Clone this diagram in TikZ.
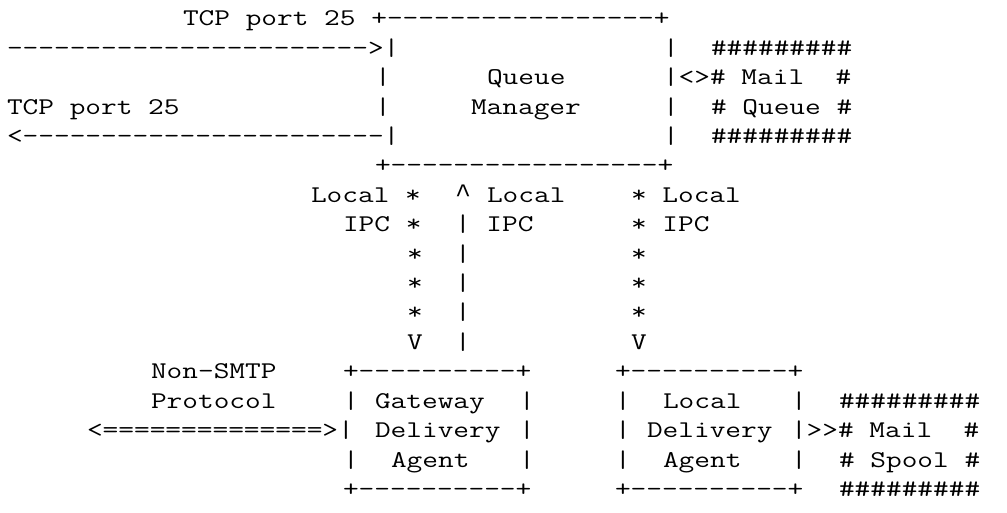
\documentclass[tikz,border=0pt]{standalone}
\usepackage{fontspec}
\setmonofont{lmmono12-regular.otf}[FakeStretch=1.27]
\newfontfamily\caretfont{Liberation Mono}
\tikzset{txt/.style={anchor=base west, inner sep=0pt, outer sep=0pt,
  font=\ttfamily\fontsize{12pt}{14.7pt}\selectfont, text=black}}
\newcommand\artline[4]{\node[txt] (#1) at ({3.5pt+#2*8pt},{-13pt-#3*14.7pt}) {#4};}
\begin{document}
\begin{tikzpicture}
\fill[white] (0,0) rectangle (503.5pt,-256.5pt);
\useasboundingbox (0,0) rectangle (503.5pt,-256.5pt);
% row 0
\artline{tcpin}{11}{0}{TCP port 25 +-----------------+}
% row 1
\artline{inarrow}{0}{1}{----------------------->|}
\artline{qmr1}{41}{1}{|}
\artline{mq1}{44}{1}{\#\#\#\#\#\#\#\#\#}
% row 2
\artline{qml2}{23}{2}{|}
\artline{queue}{30}{2}{Queue}
\artline{mq2}{41}{2}{|<>\#~Mail~~\#}
% row 3
\artline{tcpout}{0}{3}{TCP port 25}
\artline{qml3}{23}{3}{|}
\artline{manager}{29}{3}{Manager}
\artline{qmr3}{41}{3}{|}
\artline{mq3}{44}{3}{\#~Queue~\#}
% row 4
\artline{outarrow}{0}{4}{<-----------------------|}
\artline{qmr4}{41}{4}{|}
\artline{mq4}{44}{4}{\#\#\#\#\#\#\#\#\#}
% row 5
\artline{qmbot}{23}{5}{+-----------------+}
% row 6
\artline{ipcA1}{19}{6}{Local *}
\artline{caret}{28}{6}{{\caretfont\fontsize{13.33pt}{14.7pt}\selectfont\textasciicircum}}
\artline{ipcB1}{30}{6}{Local}
\artline{ipcC1}{39}{6}{* Local}
% row 7
\artline{ipcA2}{21}{7}{IPC *}
\artline{ipcB2}{28}{7}{| IPC}
\artline{ipcC2}{39}{7}{* IPC}
% rows 8-11
\artline{a8}{25}{8}{*}\artline{b8}{28}{8}{|}\artline{c8}{39}{8}{*}
\artline{a9}{25}{9}{*}\artline{b9}{28}{9}{|}\artline{c9}{39}{9}{*}
\artline{a10}{25}{10}{*}\artline{b10}{28}{10}{|}\artline{c10}{39}{10}{*}
\artline{a11}{25}{11}{V}\artline{b11}{28}{11}{|}\artline{c11}{39}{11}{V}
% row 12
\artline{nonsmtp}{9}{12}{Non-SMTP}
\artline{gdatop}{21}{12}{+----------+}
\artline{ldatop}{38}{12}{+----------+}
% row 13
\artline{protocol}{9}{13}{Protocol}
\artline{gdal13}{21}{13}{|}
\artline{gateway}{23}{13}{Gateway}
\artline{gdar13}{32}{13}{|}
\artline{ldal13}{38}{13}{|}
\artline{local}{41}{13}{Local}
\artline{ldar13}{49}{13}{|}
\artline{ms1}{52}{13}{\#\#\#\#\#\#\#\#\#}
% row 14
\artline{gwarrow}{5}{14}{<==============>|}
\artline{gdeliv}{23}{14}{Delivery}
\artline{gdar14}{32}{14}{|}
\artline{ldal14}{38}{14}{|}
\artline{ldeliv}{40}{14}{Delivery}
\artline{ms2}{49}{14}{|>>\#~Mail~~\#}
% row 15
\artline{gdal15}{21}{15}{|}
\artline{gagent}{24}{15}{Agent}
\artline{gdar15}{32}{15}{|}
\artline{ldal15}{38}{15}{|}
\artline{lagent}{41}{15}{Agent}
\artline{ldar15}{49}{15}{|}
\artline{ms3}{52}{15}{\#~Spool~\#}
% row 16
\artline{gdabot}{21}{16}{+----------+}
\artline{ldabot}{38}{16}{+----------+}
\artline{ms4}{52}{16}{\#\#\#\#\#\#\#\#\#}
\end{tikzpicture}
\end{document}
